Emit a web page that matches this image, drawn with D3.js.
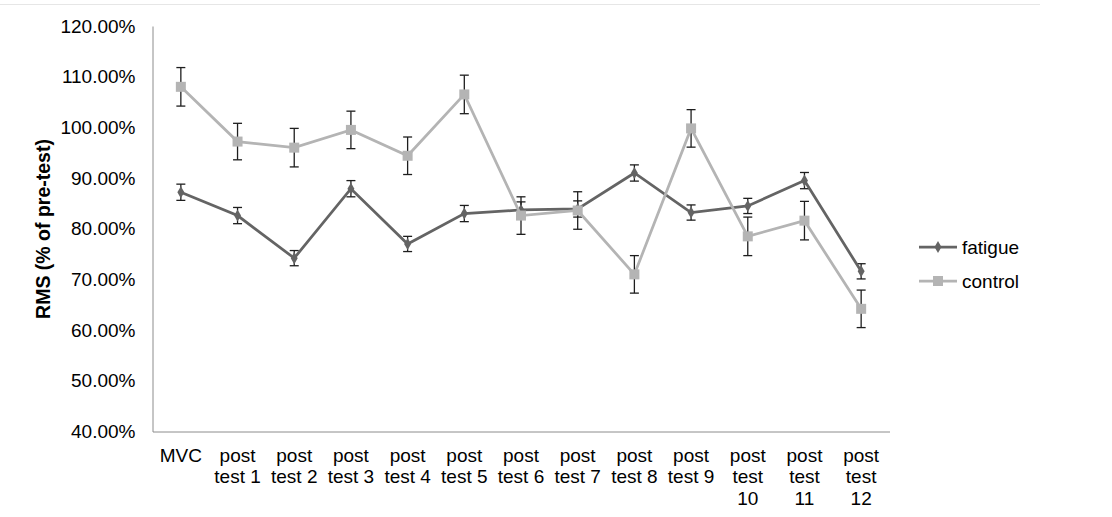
<!DOCTYPE html>
<html>
<head>
<meta charset="utf-8">
<script src="https://cdn.jsdelivr.net/npm/d3@7"></script>
<style>
  body { margin: 0; background: #fff; }
  text { font-family: "Liberation Sans", Arial, sans-serif; fill: #000; }
</style>
</head>
<body>
<div class="chart"></div>
<script>
var categories = ["MVC","post test 1","post test 2","post test 3","post test 4","post test 5","post test 6",
	"post test 7","post test 8","post test 9","post test 10","post test 11","post test 12"];

var tickLabels = [["MVC"],["post","test 1"],["post","test 2"],["post","test 3"],["post","test 4"],["post","test 5"],
	["post","test 6"],["post","test 7"],["post","test 8"],["post","test 9"],["post","test","10"],["post","test","11"],["post","test","12"]];

var yTicks = [0.4,0.5,0.6,0.7,0.8,0.9,1.0,1.1,1.2];

var fatigue    = [0.872,0.826,0.742,0.879,0.770,0.830,0.837,0.839,0.910,0.832,0.845,0.895,0.716];
var fatigueErr = [0.016,0.016,0.015,0.016,0.015,0.016,0.016,0.016,0.016,0.015,0.015,0.016,0.015];
var control    = [1.080,0.972,0.960,0.995,0.944,1.065,0.826,0.836,0.710,0.998,0.785,0.816,0.642];
var controlErr = [0.038,0.036,0.038,0.037,0.037,0.038,0.037,0.037,0.037,0.037,0.038,0.038,0.037];

var colors = {"fatigue":"#646464","control":"#b4b4b4"};

var svg = d3.select(".chart").append("svg")
	.attr("width",1112).attr("height",517);

// thin frame line at top
svg.append("line").attr("x1",0).attr("x2",1040).attr("y1",4.5).attr("y2",4.5)
	.attr("stroke","#e6e6e6").attr("stroke-width",1);

var x = d3.scaleBand().domain(categories).range([152.5,889.5]);
var y = d3.scaleLinear().domain([0.4,1.2]).range([431.5,26]);
var cx = function(i){ return x(categories[i]) + x.bandwidth()/2 };

// y axis
var yAxis = svg.append("g").attr("transform","translate(152.5,0)")
	.call(d3.axisLeft(y).tickValues(yTicks).tickSize(0).tickPadding(17).tickFormat(d3.format(".2%")));
yAxis.select(".domain").attr("stroke","#8c8c8c");
yAxis.selectAll("text").style("font-size","19px").attr("fill","#000");

// x axis
var xAxis = svg.append("g").attr("transform","translate(0,431.5)")
	.call(d3.axisBottom(x).tickSize(0).tickSizeOuter(0).tickFormat(""));
xAxis.select(".domain").attr("stroke","#8c8c8c");
xAxis.selectAll(".tick").each(function(d,i){
	var t = d3.select(this).append("text").attr("fill","#000").attr("text-anchor","middle")
		.style("font-size","19px");
	tickLabels[i].forEach(function(line,j){
		t.append("tspan").attr("x",0).attr("y",30 + j*21.5).text(line);
	});
});

// axis title
svg.append("text").attr("transform","translate(50,229) rotate(-90)")
	.attr("text-anchor","middle").style("font-size","19.5px").style("font-weight","bold")
	.text("RMS (% of pre-test)");

// error bars
var drawErrors = function(vals, errs) {
	var g = svg.append("g");
	vals.forEach(function(v,i){
		var hi = y(v+errs[i]), lo = y(v-errs[i]), xc = cx(i);
		g.append("line").attr("x1",xc).attr("x2",xc).attr("y1",hi).attr("y2",lo);
		g.append("line").attr("x1",xc-4.5).attr("x2",xc+4.5).attr("y1",hi).attr("y2",hi);
		g.append("line").attr("x1",xc-4.5).attr("x2",xc+4.5).attr("y1",lo).attr("y2",lo);
	});
	g.selectAll("line").attr("stroke","#1e1e1e").attr("stroke-width",1.3);
};
drawErrors(fatigue,fatigueErr);
drawErrors(control,controlErr);

var line = d3.line().x(function(d,i){return cx(i)}).y(function(d){return y(d)});

var diamond = d3.symbol().type(d3.symbolDiamond).size(42);

// fatigue series
svg.append("path").datum(fatigue).attr("d",line).attr("fill","none")
	.attr("stroke",colors.fatigue).attr("stroke-width",2.75);
svg.append("g").selectAll("path").data(fatigue).enter().append("path")
	.attr("d",diamond)
	.attr("transform",function(d,i){return "translate("+cx(i)+","+y(d)+")"})
	.attr("fill",colors.fatigue);

// control series
svg.append("path").datum(control).attr("d",line).attr("fill","none")
	.attr("stroke",colors.control).attr("stroke-width",2.75);
svg.append("g").selectAll("rect").data(control).enter().append("rect")
	.attr("x",function(d,i){return cx(i)-5}).attr("y",function(d){return y(d)-5})
	.attr("width",10).attr("height",10).attr("fill",colors.control);

// legend
var legend = [{name:"fatigue",y:247},{name:"control",y:281}];
var lg = svg.append("g").selectAll("g").data(legend).enter().append("g")
	.attr("transform",function(d){return "translate(919,"+d.y+")"});
lg.append("line").attr("x1",0).attr("x2",38).attr("y1",0).attr("y2",0)
	.attr("stroke",function(d){return colors[d.name]}).attr("stroke-width",2.75);
lg.each(function(d){
	var g = d3.select(this);
	if (d.name=="fatigue") {
		g.append("path").attr("d",diamond).attr("transform","translate(19,0)").attr("fill",colors.fatigue);
	} else {
		g.append("rect").attr("x",14).attr("y",-5).attr("width",10).attr("height",10).attr("fill",colors.control);
	}
});
lg.append("text").attr("x",43).attr("dy","0.35em").style("font-size","19px")
	.text(function(d){return d.name});
</script>
</body>
</html>
